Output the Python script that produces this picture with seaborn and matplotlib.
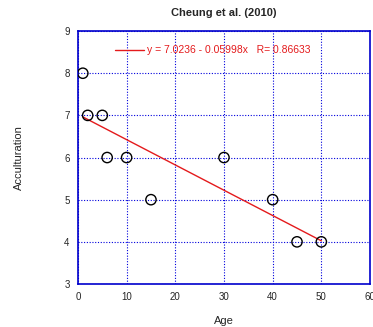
import numpy as np
import pandas as pd
import matplotlib
import seaborn as sns

matplotlib.use("Agg")
from matplotlib import pyplot as plt

age = [1, 2, 5, 6, 10, 15, 30, 40, 45, 50]
acculturation = [8, 7, 7, 6, 6, 5, 6, 5, 4, 4]
intercept = 7.0236
slope = -0.05998
r_value = 0.86633

x_ticks = [0, 10, 20, 30, 40, 50, 60]
y_ticks = [3, 4, 5, 6, 7, 8, 9]

df = pd.DataFrame({"age": age, "acculturation": acculturation})
fit_x = np.array([min(age), max(age)])
fit = pd.DataFrame({"age": fit_x, "fit": intercept + slope * fit_x})

sns.set_style("white")
plt.rcParams["font.family"] = ["Liberation Sans", "DejaVu Sans"]

fig = plt.figure(figsize=(3.73, 3.27), dpi=100)
ax = fig.add_axes([0.209, 0.1315, 0.783, 0.7735])

sns.lineplot(data=fit, x="age", y="fit", color="#e41a1c", lw=1,
             label=f"y = {intercept} - {abs(slope)}x   R= {r_value}", ax=ax)
sns.scatterplot(data=df, x="age", y="acculturation", marker="o", s=55,
                facecolor="none", edgecolor="black", linewidth=1, ax=ax, zorder=3)

ax.set_xlim(0, 60)
ax.set_ylim(3, 9)
ax.set_xticks(x_ticks)
ax.set_yticks(y_ticks)
ax.tick_params(labelsize=7, length=0, pad=6)
ax.grid(True, color="#0000dd", linestyle=(0, (1, 1.5)), linewidth=0.8)
for s in ax.spines.values():
    s.set_color("#0000cc")
    s.set_linewidth(1.2)

ax.set_xlabel("Age", fontsize=8)
ax.xaxis.set_label_coords(0.5, -0.125)
ax.set_ylabel("Acculturation", fontsize=8)
ax.yaxis.set_label_coords(-0.185, 0.5)
ax.set_title("Cheung et al. (2010)", fontsize=8, fontweight="bold", pad=11)

leg = ax.legend(loc="upper left", bbox_to_anchor=(0.095, 0.98), frameon=False,
                fontsize=7.5, handlelength=2.8, handletextpad=0.3)
for t in leg.get_texts():
    t.set_color("#e41a1c")

fig.savefig("out.png", dpi=100)
